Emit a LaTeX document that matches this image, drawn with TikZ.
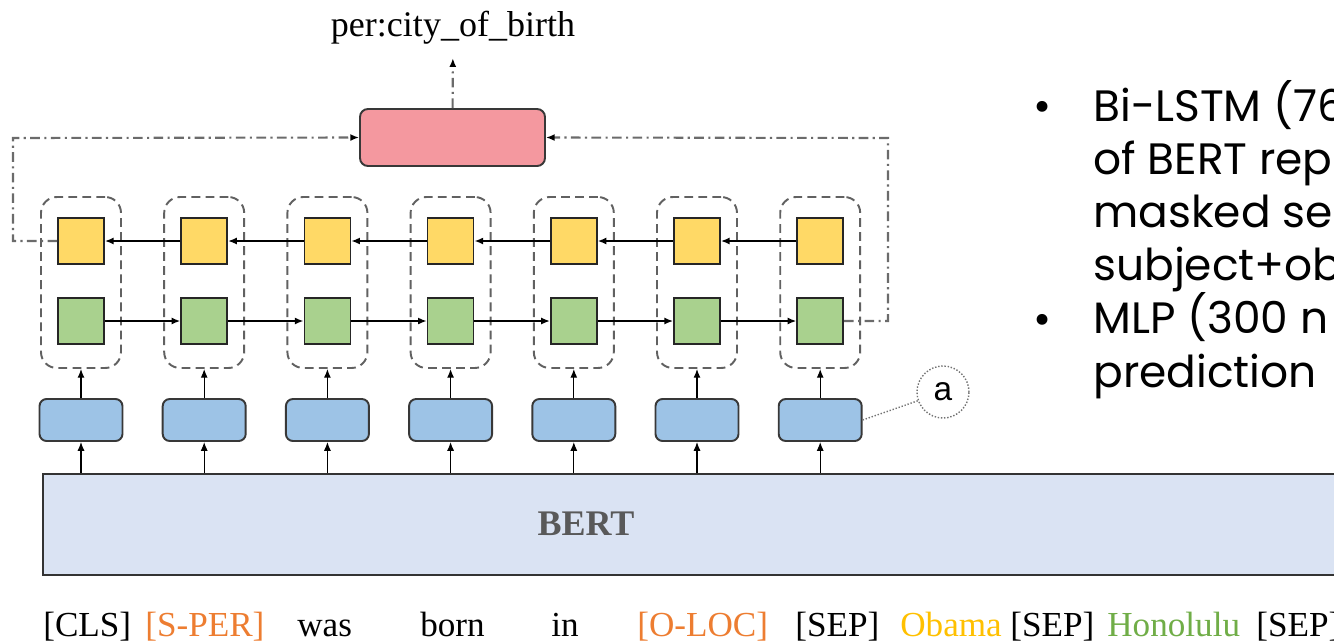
\documentclass[tikz,border=0pt]{standalone}
\usepackage{fontspec}
\setmainfont{Liberation Serif}
\newfontfamily\bulletfont{Poppins}
\newfontfamily\labelfont{Liberation Sans}
\usepackage{tikz}
\usetikzlibrary{arrows.meta}
\usepackage{xcolor}
\definecolor{cellyellow}{HTML}{FFD966}
\definecolor{cellgreen}{HTML}{A9D18E}
\definecolor{embblue}{HTML}{9DC3E6}
\definecolor{mlppink}{HTML}{F4989F}
\definecolor{bertblue}{HTML}{DAE3F3}
\definecolor{tokorange}{HTML}{ED7D31}
\definecolor{tokyellow}{HTML}{FFC000}
\definecolor{tokgreen}{HTML}{70AD47}

\begin{document}
\begin{tikzpicture}[x=0.02cm,y=-0.02cm,font=\fontsize{20}{24}\selectfont,>={Latex[length=5pt,width=4pt,black]}]
      \tikzstyle{bw node}=[draw=black!85,fill=cellyellow,line width=0.9pt,minimum width=0.92cm,minimum height=0.92cm,inner sep=0]
      \tikzstyle{fw node}=[bw node,fill=cellgreen]
      \tikzstyle{group node}=[draw=black!62,line width=1.1pt,dash pattern=on 5pt off 3pt,rounded corners=9pt,minimum width=1.6cm,minimum height=3.42cm]
      \tikzstyle{emb node}=[draw=black!78,fill=embblue,line width=1.1pt,rounded corners=4pt,minimum width=1.66cm,minimum height=0.84cm]
      \tikzstyle{dashdot line}=[draw=black!58,line width=1.2pt,dash pattern=on 5.5pt off 2.5pt on 1.2pt off 2.5pt]
      \tikzstyle{token}=[anchor=base west,inner sep=0]
      \tikzstyle{bullet line}=[anchor=base west,inner sep=0,font=\bulletfont\fontsize{25}{30}\selectfont]
      \useasboundingbox (0,0) rectangle (1334,643);
      \clip (0,0) rectangle (1334,643);
      % encoder
      \node(bert)[draw=black!80,fill=bertblue,line width=1.1pt,minimum width=26.4cm,minimum height=2.02cm,anchor=north west,inner sep=0] at (42,473) {};
      \node(bertlabel)[font=\bfseries\fontsize{20.5}{24}\selectfont,text=black!65] at (586,524) {BERT};
      % one column per token
      \foreach \i in {1,...,7}{
          \pgfmathsetmacro{\cx}{81+(\i-1)*123.2}
          \node(grp\i)[group node] at (\cx,282.5) {};
          \node(bw\i)[bw node] at (\cx,241) {};
          \node(fw\i)[fw node] at (\cx,321) {};
          \node(emb\i)[emb node] at (\cx,420) {};
          \draw[->,line width=0.7pt] (emb\i) -- (grp\i);
          \draw[->,line width=0.7pt] (bert.north -| emb\i) -- (emb\i);
      }
      \foreach \i [evaluate=\i as \j using int(\i+1)] in {1,...,6}{
          \draw[->,line width=1.5pt] (bw\j) -- (bw\i);
          \draw[->,line width=1.5pt] (fw\i) -- (fw\j);
      }
      % classifier
      \node(mlp)[draw=black!78,fill=mlppink,line width=1.1pt,rounded corners=4.5pt,minimum width=3.7cm,minimum height=1.14cm] at (452.5,137.5) {};
      \node(out)[inner sep=0,anchor=base,font=\fontsize{20.5}{24}\selectfont] at (453,36) {per:city\_of\_birth};
      \draw[dashdot line,->,shorten >=8pt] (mlp) -- (out);
      \coordinate(lc) at (13,138);
      \coordinate(rc) at (888,138);
      \draw[dashdot line,->] (bw1.west) -| (lc) -- (mlp.west);
      \draw[dashdot line,->] (fw7.east) -| (rc) -- (mlp.east);
      % note
      \node(anote)[circle,draw=black!55,densely dotted,line width=0.8pt,minimum size=1.04cm,inner sep=0,font=\labelfont\fontsize{19}{22}\selectfont] at (943,392) {a};
      \draw[densely dotted,black!55,line width=0.8pt] (emb7.east) -- (anote);
      % input tokens
      \foreach \x/\t/\c [count=\k] in {43/[CLS]/black,145/[S-PER]/tokorange,297/was/black,420/born/black,551/in/black,637/[O-LOC]/tokorange,795/[SEP]/black,900/Obama/tokyellow,1010/[SEP]/black,1107/Honolulu/tokgreen,1256/[SEP]/black}
          \node(tok\k)[token,text=\c] at (\x,636) {\t};
      % bullets
      \node(dot1)[bullet line] at (1033,121) {•};
      \node(dot2)[bullet line] at (1033,334) {•};
      \foreach \t [count=\k] in {Bi-LSTM (76,of BERT rep,masked se,subject+ob,MLP (300 n,prediction}
          \node(line\k)[bullet line] at (1093,{121+(\k-1)*53.2}) {\t};
\end{tikzpicture}
\end{document}
